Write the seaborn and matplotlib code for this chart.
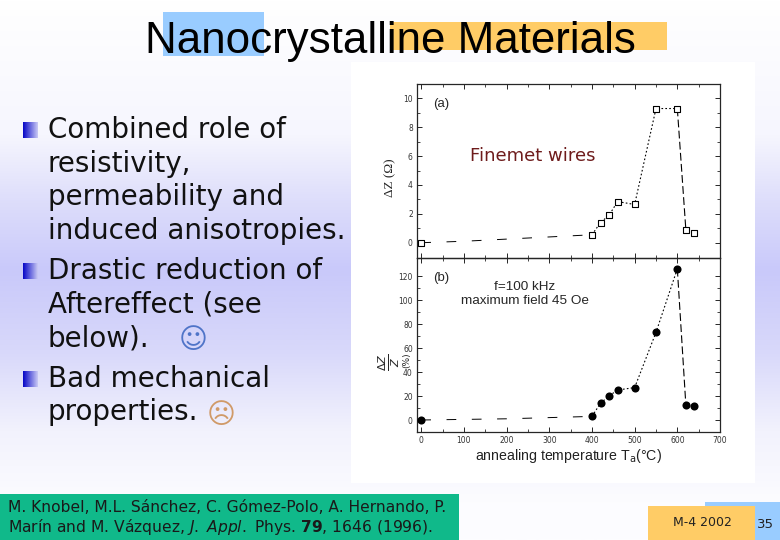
import numpy as np
import matplotlib
matplotlib.use('Agg')
import matplotlib.pyplot as plt
from matplotlib.colors import LinearSegmentedColormap
from matplotlib.patches import Rectangle
import seaborn as sns

# values
temp_a = [0, 100, 200, 300, 400, 420, 440, 460, 500, 550, 600, 620, 640]
dz_a = [0, 0.1, 0.25, 0.4, 0.55, 1.4, 1.9, 2.85, 2.65, 9.3, 9.3, 0.9, 0.65]
marker_temp_a = [0, 400, 420, 440, 460, 500, 550, 600, 620, 640]
marker_dz_a = [0, 0.55, 1.4, 1.9, 2.85, 2.65, 9.3, 9.3, 0.9, 0.65]

temp_b = [0, 100, 200, 300, 400, 420, 440, 460, 500, 550, 600, 620, 640]
dz_b = [0, 0.5, 1, 2, 3, 14, 20, 25, 27, 73, 126, 12.5, 12]
marker_temp_b = [0, 400, 420, 440, 460, 500, 550, 600, 620, 640]
marker_dz_b = [0, 3, 14, 20, 25, 27, 73, 126, 12.5, 12]

x_ticks = [0, 100, 200, 300, 400, 500, 600, 700]
y_ticks_a = [0, 2, 4, 6, 8, 10]
y_ticks_b = [0, 20, 40, 60, 80, 100, 120]

body_lines = ['Combined role of', 'resistivity,', 'permeability and', 'induced anisotropies.',
              'Drastic reduction of', 'Aftereffect (see', 'below).',
              'Bad mechanical', 'properties.']
body_y = [130, 164, 197, 231, 271, 305, 338, 379, 412]
bullet_y = [130, 271, 379]

W, H = 780, 540
sns.set_style('ticks')
plt.rcParams['font.family'] = ['DejaVu Sans']

fig = plt.figure(figsize=(W / 100, H / 100), dpi=100)

# slide background, in pixel coordinates
bg = fig.add_axes([0, 0, 1, 1], zorder=0)
cmap = LinearSegmentedColormap.from_list('slide', [
    (0.0, '#ffffff'), (0.25, '#f6f6fe'), (0.37, '#dedefb'), (0.5, '#c9c9fa'),
    (0.65, '#d8d8fa'), (0.8, '#f2f2fd'), (0.93, '#fcfcff'), (1.0, '#fdfdff')])
bg.imshow(np.linspace(0, 1, 256).reshape(-1, 1), cmap=cmap, aspect='auto',
          extent=[0, W, H, 0])
bg.add_patch(Rectangle((163, 12), 101, 44, color='#99ccff', lw=0))
bg.add_patch(Rectangle((390, 22), 277, 28, color='#ffcc66', lw=0))
bg.add_patch(Rectangle((351, 62), 404, 421, color='white', lw=0))
bg.add_patch(Rectangle((0, 494), 459, 46, color='#10b98a', lw=0))
bg.add_patch(Rectangle((705, 502), 75, 38, color='#99ccff', lw=0))
bg.add_patch(Rectangle((648, 506), 107, 34, color='#ffcc66', lw=0))

bg.text(390, 41, 'Nanocrystalline Materials', family='Liberation Sans', fontsize=31.6,
        ha='center', va='center', color='black')

square = LinearSegmentedColormap.from_list('bullet', ['#0808c8', '#c8c8f4'])
for y in bullet_y:
    bg.imshow(np.linspace(0, 1, 32).reshape(1, -1), cmap=square, aspect='auto',
              extent=[23, 38, y + 8, y - 8])
for label, y in zip(body_lines, body_y):
    bg.text(48, y, label, fontsize=20, va='center', ha='left', color='#111111')
bg.text(193, 340, '\u263a', fontsize=20, ha='center', va='center', color='#4f74c8')
bg.text(221, 415, '\u2639', fontsize=20, ha='center', va='center', color='#d09a68')

bg.text(8, 507, 'M. Knobel, M.L. S\u00e1nchez, C. G\u00f3mez-Polo, A. Hernando, P.',
        fontsize=11.2, va='center', color='#1a1a1a')
bg.text(8, 527, 'Mar\u00edn and M. V\u00e1zquez, $\\mathit{J.\\ Appl.}$ Phys. '
        '$\\mathbf{79}$, 1646 (1996).', fontsize=11.2, va='center', color='#1a1a1a')
bg.text(702, 522, 'M-4 2002', fontsize=9, ha='center', va='center', color='#222222')
bg.text(765, 525, '35', fontsize=9.5, ha='center', va='center', color='#222222')
bg.text(533, 156, 'Finemet wires', fontsize=13, ha='center', va='center', color='#6e1c1c')
bg.set_xlim(0, W)
bg.set_ylim(H, 0)
bg.axis('off')

# the two panels of the figure
left, right = 417 / W, 720 / W
ax_a = fig.add_axes([left, 1 - 258 / H, right - left, 174 / H], zorder=2)
ax_b = fig.add_axes([left, 1 - 432 / H, right - left, 174 / H], zorder=2)


def broken_line(ax, xs, ys):
    # the scan leaves long dashes on the flat part and the fall, dots on the rise
    sns.lineplot(x=xs[:5], y=ys[:5], ax=ax, color='black', lw=0.7, sort=False,
                 linestyle=(0, (10, 16)), errorbar=None)
    sns.lineplot(x=xs[4:11], y=ys[4:11], ax=ax, color='black', lw=0.8, sort=False,
                 linestyle=(0, (1.5, 2)), errorbar=None)
    sns.lineplot(x=xs[10:12], y=ys[10:12], ax=ax, color='black', lw=0.8, sort=False,
                 linestyle=(0, (7, 3)), errorbar=None)


broken_line(ax_a, temp_a, dz_a)
sns.scatterplot(x=marker_temp_a, y=marker_dz_a, ax=ax_a, marker='s', s=22,
                facecolors='white', edgecolor='black', linewidth=0.8, zorder=3)
broken_line(ax_b, temp_b, dz_b)
sns.scatterplot(x=marker_temp_b, y=marker_dz_b, ax=ax_b, marker='o', s=34,
                color='black', linewidth=0, zorder=3)

for ax in (ax_a, ax_b):
    ax.set_xlim(-10, 700)
    ax.set_xticks(x_ticks)
    ax.set_xticks(np.arange(50, 700, 100), minor=True)
    ax.tick_params(which='major', direction='in', length=3.5, width=0.7, top=True, right=True,
                   labelsize=5.5, labelcolor='#333333', pad=3)
    ax.tick_params(which='minor', direction='in', length=2, width=0.6, top=True, right=True)
    for spine in ax.spines.values():
        spine.set_linewidth(0.9)
        spine.set_visible(True)
    ax.patch.set_alpha(0)

ax_a.set_ylim(-1.06, 11)
ax_a.set_yticks(y_ticks_a)
ax_a.set_yticks(np.arange(1, 11, 2), minor=True)
ax_a.tick_params(axis='x', labelbottom=False)
ax_b.set_ylim(-10, 135)
ax_b.set_yticks(y_ticks_b)
ax_b.set_yticks(np.arange(10, 130, 20), minor=True)

ax_a.text(46, 9.6, '(a)', fontsize=9.5, ha='center', va='center', family='Liberation Sans')
ax_b.text(46, 118, '(b)', fontsize=9.5, ha='center', va='center', family='Liberation Sans')
ax_b.text(242, 105, 'f=100 kHz\nmaximum field 45 Oe', fontsize=9.7, ha='center',
          va='center', family='Liberation Sans', linespacing=1.25)

ax_b.set_xlabel('annealing temperature T$_\\mathrm{a}$(\u00b0C)', fontsize=10.2,
                family='Liberation Sans', labelpad=1, color='#222222')
ax_b.set_ylabel('')
ax_a.set_ylabel('')
fig.text(390 / W, 1 - 178 / H, '\u0394Z (\u03a9)', rotation=90, fontsize=9.5, ha='center', va='center',
         family='Liberation Serif', zorder=3)
fig.text(389 / W, 1 - 362 / H, '$\\frac{\\Delta Z}{Z}$', rotation=90, fontsize=11.5, ha='center',
         va='center', zorder=3)
fig.text(407 / W, 1 - 360 / H, '(%)', rotation=90, fontsize=6.5, ha='center',
         va='center', zorder=3)

fig.savefig('out.png', dpi=100)
